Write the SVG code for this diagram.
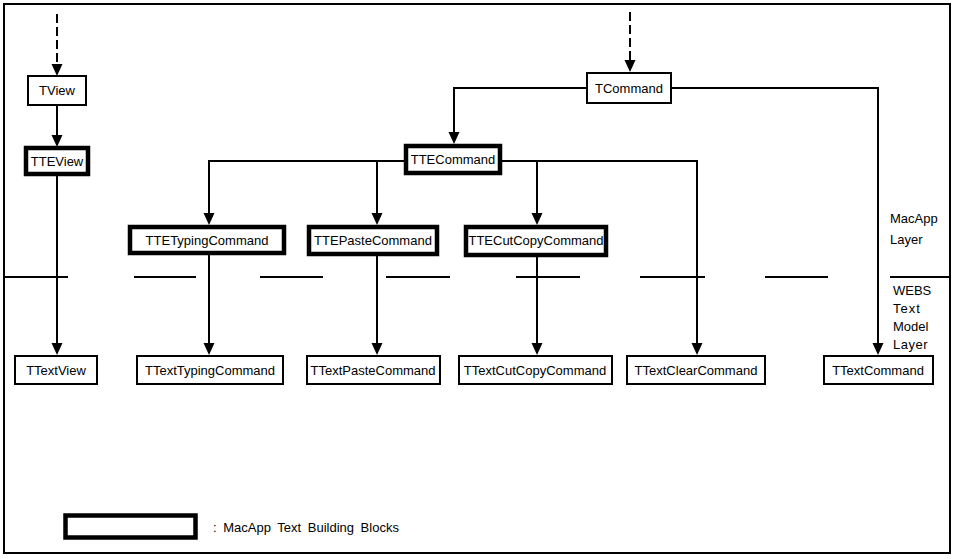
<svg xmlns="http://www.w3.org/2000/svg" width="956" height="559" viewBox="0 0 956 559">
<defs>
<style>
.t{font-family:"Liberation Sans",Arial,sans-serif;font-size:13px;fill:#000;}
.c{text-anchor:middle;}
.box{fill:#fff;stroke:#000;stroke-width:2;}
.thick{fill:#fff;stroke:#000;stroke-width:4.5;}
.ln{fill:none;stroke:#000;stroke-width:2;}
.dash{fill:none;stroke:#000;stroke-width:2;stroke-dasharray:9 4;}
.div{fill:none;stroke:#000;stroke-width:2;}
</style>
<marker id="ah" markerUnits="userSpaceOnUse" viewBox="0 0 12 12" refX="6" refY="6" markerWidth="12" markerHeight="12" orient="auto">
<path d="M0,0.5 L12,6 L0,11.5 Z" fill="#000"/>
</marker>
</defs>
<rect x="0" y="0" width="956" height="559" fill="#fff"/>
<rect x="4" y="4" width="946" height="549" fill="none" stroke="#000" stroke-width="2"/>
<g id="layer-divider">
<path class="div" d="M5,277 H68 M134,277 H196 M260,277 H323 M386,277 H450 M516,277 H580 M640,277 H705 M765,277 H828 M890,277 H950"/>
</g>
<g id="connectors">
<path class="dash" d="M57,14 V70" marker-end="url(#ah)"/>
<path class="ln" d="M57,105 V141" marker-end="url(#ah)"/>
<path class="ln" d="M57,175 V349" marker-end="url(#ah)"/>
<path class="dash" d="M630,12 V66" marker-end="url(#ah)"/>
<path class="ln" d="M587,88 H454 V138" marker-end="url(#ah)"/>
<path class="ln" d="M671,88 H878 V349" marker-end="url(#ah)"/>
<path class="ln" d="M404,161 H209 V219" marker-end="url(#ah)"/>
<path class="ln" d="M502,161 H697 V349" marker-end="url(#ah)"/>
<path class="ln" d="M377,161 V219" marker-end="url(#ah)"/>
<path class="ln" d="M537,161 V219" marker-end="url(#ah)"/>
<path class="ln" d="M209,255 V349" marker-end="url(#ah)"/>
<path class="ln" d="M377,256 V349" marker-end="url(#ah)"/>
<path class="ln" d="M537,256 V349" marker-end="url(#ah)"/>
</g>
<g id="TView"><rect class="box" x="28" y="76" width="58" height="29"/><text class="t c" x="57" y="95">TView</text></g>
<g id="TTEView"><rect class="thick" x="26" y="148" width="62" height="26"/><text class="t c" x="57" y="166">TTEView</text></g>
<g id="TCommand"><rect class="box" x="587" y="73" width="84" height="30"/><text class="t c" x="629" y="93">TCommand</text></g>
<g id="TTECommand"><rect class="thick" x="406" y="146" width="94" height="27"/><text class="t c" x="453" y="164">TTECommand</text></g>
<g id="TTETypingCommand"><rect class="thick" x="130" y="227" width="154" height="26"/><text class="t c" x="207" y="245">TTETypingCommand</text></g>
<g id="TTEPasteCommand"><rect class="thick" x="309" y="227" width="128" height="27"/><text class="t c" x="373" y="245">TTEPasteCommand</text></g>
<g id="TTECutCopyCommand"><rect class="thick" x="466" y="227" width="140" height="28"/><text class="t c" x="536" y="245">TTECutCopyCommand</text></g>
<g id="TTextView"><rect class="box" x="15" y="356" width="82" height="28"/><text class="t c" x="56" y="375">TTextView</text></g>
<g id="TTextTypingCommand"><rect class="box" x="137" y="356" width="146" height="28"/><text class="t c" x="210" y="375">TTextTypingCommand</text></g>
<g id="TTextPasteCommand"><rect class="box" x="307" y="356" width="133" height="28"/><text class="t c" x="373" y="375">TTextPasteCommand</text></g>
<g id="TTextCutCopyCommand"><rect class="box" x="459" y="356" width="153" height="28"/><text class="t c" x="535" y="375">TTextCutCopyCommand</text></g>
<g id="TTextClearCommand"><rect class="box" x="627" y="356" width="138" height="28"/><text class="t c" x="696" y="375">TTextClearCommand</text></g>
<g id="TTextCommand"><rect class="box" x="824" y="356" width="109" height="28"/><text class="t c" x="878" y="375">TTextCommand</text></g>
<g id="layer-labels">
<text class="t" x="890" y="223">MacApp</text>
<text class="t" x="890" y="244">Layer</text>
<text class="t" x="893" y="295">WEBS</text>
<text class="t" x="893" y="313" letter-spacing="1">Text</text>
<text class="t" x="893" y="331">Model</text>
<text class="t" x="893" y="349" letter-spacing="0.5">Layer</text>
</g>
<g id="legend">
<rect class="thick" x="65.5" y="515.5" width="130" height="22" stroke-width="5"/>
<text class="t" x="213" y="532" word-spacing="3">: MacApp Text Building Blocks</text>
</g>
</svg>
